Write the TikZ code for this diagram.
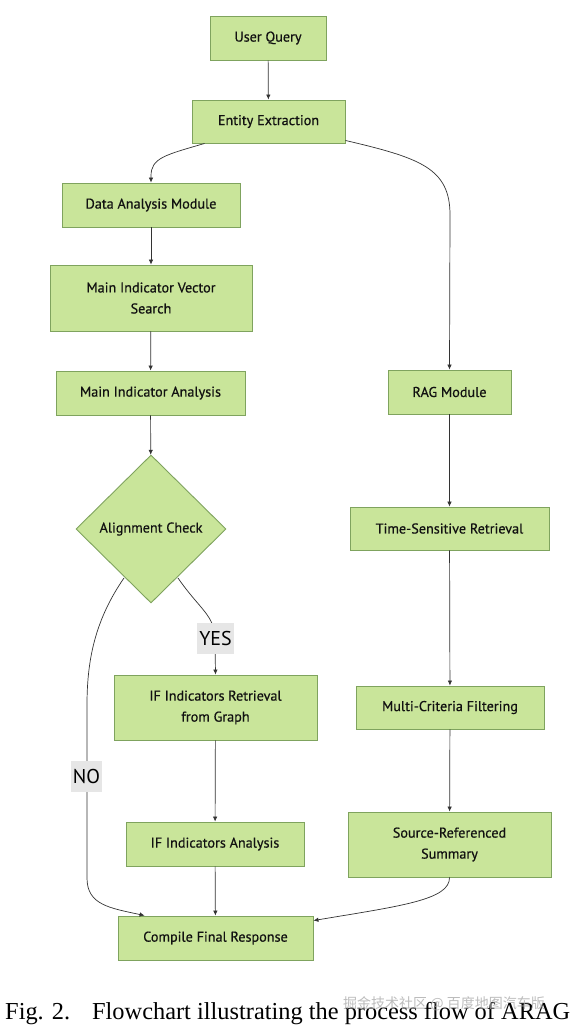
\documentclass[tikz,border=0pt]{standalone}
\usepackage{fontspec}
\setmainfont{Liberation Serif}
\newfontfamily\boxfont[FakeBold=0.5]{PT Sans}
\newfontfamily\lblfont{PT Sans}
\newfontfamily\cjkfont{Noto Sans CJK SC}
\usetikzlibrary{shapes.geometric,arrows.meta}
\definecolor{boxfill}{HTML}{C9E59A}
\definecolor{boxline}{HTML}{7FA35E}
\definecolor{edgecol}{HTML}{333333}
\definecolor{txtcol}{HTML}{111111}
\definecolor{lblfill}{HTML}{E6E6E6}
\tikzset{
  box/.style={draw=boxline, fill=boxfill, line width=0.9pt, text=txtcol,
    font=\boxfont\fontsize{14.2}{21}\selectfont, align=center, inner sep=0pt},
  dia/.style={box, diamond, aspect=1},
  edge/.style={draw=edgecol, line width=0.7pt, -{Latex[length=5pt,width=4.5pt]}},
  lbl/.style={fill=lblfill, text=black, font=\lblfont\fontsize{20}{22}\selectfont,
    inner sep=2pt, minimum height=31pt}
}
\begin{document}
\begin{tikzpicture}[x=1pt,y=-1pt]
\useasboundingbox (0,0) rectangle (573,1034);
\fill[white] (0,0) rectangle (573,1034);

\node[box, minimum width=116pt, minimum height=44pt] (uq) at (268,38) {User Query};
\node[box, minimum width=153pt, minimum height=43pt] (ee) at (268.5,121.5) {Entity Extraction};
\node[box, minimum width=178pt, minimum height=44pt] (dam) at (151,205) {Data Analysis Module};
\node[box, minimum width=202pt, minimum height=66pt] (mivs) at (151,298) {Main Indicator Vector\\Search};
\node[box, minimum width=189pt, minimum height=44pt] (mia) at (150.5,393) {Main Indicator Analysis};
\node[dia, minimum width=150pt, minimum height=148pt] (ac) at (151,529) {Alignment Check};
\node[box, minimum width=203pt, minimum height=65pt] (ifr) at (215.5,707.5) {IF Indicators Retrieval\\from Graph};
\node[box, minimum width=178pt, minimum height=44pt] (ifa) at (215,844) {IF Indicators Analysis};
\node[box, minimum width=195pt, minimum height=44pt] (cfr) at (215.5,938) {Compile Final Response};

\node[box, minimum width=123pt, minimum height=44pt] (rag) at (449.5,392) {RAG Module};
\node[box, minimum width=199pt, minimum height=43pt] (tsr) at (449.5,528.5) {Time-Sensitive Retrieval};
\node[box, minimum width=188pt, minimum height=43pt] (mcf) at (450,707.5) {Multi-Criteria Filtering};
\node[box, minimum width=203pt, minimum height=65pt] (srs) at (449.5,844.5) {Source-Referenced\\Summary};

% edges
\draw[edge] (uq) -- (ee);
\draw[edge] ([xshift=13pt]ee.south west) .. controls (165,155) and (151,158) .. (151,176) -- (dam.north);
\draw[edge] ([yshift=3pt]ee.south east) .. controls (420,158) and (450,168) .. (450,215) -- (rag.north);
\draw[edge] (dam) -- (mivs);
\draw[edge] (mivs) -- (mia);
\draw[edge] (mia) -- (ac);
\draw[edge] (178,578) .. controls (200,610) and (215,615) .. (215,640) -- (ifr.north);
\draw[edge] (124,578) .. controls (95,620) and (87,660) .. (87,705) -- (87,878)
   .. controls (87,905) and (110,908) .. ([xshift=27pt]cfr.north west);
\draw[edge] (ifr) -- (ifa);
\draw[edge] (ifa) -- (cfr);
\draw[edge] (rag) -- (tsr);
\draw[edge] (tsr) -- (mcf);
\draw[edge] (mcf) -- (srs);
\draw[edge] (srs.south) .. controls (450,900) and (400,906) .. ([yshift=-5pt]cfr.north east);

\node[lbl] (yes) at (215.5,638.5) {YES};
\node[lbl] (no) at (86.5,776) {NO};

% caption
\node[anchor=west, inner sep=0pt] (cap) at (5,1014)
  {\resizebox{565pt}{!}{Fig. 2.\hspace{0.9em}Flowchart illustrating the process flow of ARAG}};
\node[text=gray!70, opacity=0.75, font=\cjkfont\fontsize{14}{16}\selectfont, inner sep=0pt] (wm) at (444,1004)
  {掘金技术社区 @ 百度地图汽车版};
\end{tikzpicture}
\end{document}
